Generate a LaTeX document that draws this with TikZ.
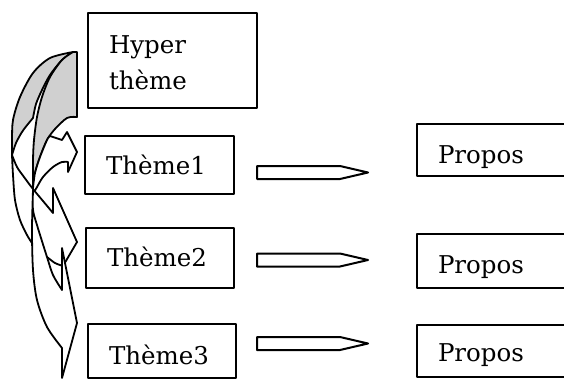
\documentclass[tikz,border=0pt]{standalone}
\usepackage{fontspec}
\setmainfont{DejaVu Serif}
\usetikzlibrary{calc}
\definecolor{backgray}{RGB}{208,208,208}
\begin{document}
\begin{tikzpicture}[x=1pt,y=-1pt,line join=round,
  box/.style={draw,line width=2pt,rectangle,anchor=north west,inner xsep=21pt,inner ysep=0pt,
    align=left,font=\fontsize{24.5}{36}\selectfont},
  blk/.style={draw,line width=2pt,fill=white},
  face/.style={draw,line width=1.8pt,fill=white},
  backface/.style={draw,line width=1.8pt,fill=backgray}]
\useasboundingbox (0,0) rectangle (564,380);
\clip (0,0) rectangle (564,380);

% boxes
\node[box,minimum width=169pt,minimum height=95pt,text width=127pt,text height=2pt,text depth=17pt] (h) at (87,12) {Hyper\\thème};
\node[box,minimum width=149pt,minimum height=58pt,text width=107pt,text height=20pt,text depth=2pt] (t1) at (84,135) {Thème1};
\node[box,minimum width=148pt,minimum height=60pt,text width=106pt,text height=18pt,text depth=2pt] (t2) at (85,227) {Thème2};
\node[box,minimum width=148pt,minimum height=54pt,text width=106pt,text height=28pt,text depth=2pt] (t3) at (87,323) {Thème3};
\node[box,minimum width=180pt,minimum height=52pt,text width=138pt,text height=28pt,text depth=2pt] (p1) at (416,123) {Propos};
\node[box,minimum width=180pt,minimum height=54pt,text width=138pt,text height=26pt,text depth=2pt] (p2) at (416,233) {Propos};
\node[box,minimum width=180pt,minimum height=52pt,text width=138pt,text height=22pt,text depth=2pt] (p3) at (416,324) {Propos};

% block arrows
\newcommand\pencilarrow[1]{\draw[blk] #1 ++(0,-6.5) -- ++(83,0) -- ++(28,6.5) -- ++(-28,6.5) -- ++(-83,0) -- cycle;}
\pencilarrow{([xshift=22pt,yshift=-7.5pt]t1.east)}
\pencilarrow{([xshift=22pt,yshift=-2pt]t2.east)}
\pencilarrow{([xshift=20pt,yshift=7.5pt]t3.east)}

% curved arrows: back faces (grey)
\path[backface] plot[smooth] coordinates {(73,52) (50,58) (33,73) (20,97) (13,120) (12,140) (12,155)}
  -- plot[smooth] coordinates {(12,155) (16,143) (22,132) (28,124) (33,118)}
  -- plot[smooth] coordinates {(33,118) (36,104) (42,90) (50,75) (62,60) (73,52)} -- cycle;
\path[backface] (73,52) -- (77,52) -- (77,117)
  -- plot[smooth] coordinates {(77,117) (67,118) (55,129) (47,140) (40,157) (35,173) (33,188)}
  -- plot[smooth] coordinates {(33,188) (33,160) (34,140) (37,117) (42,97) (50,77) (62,60) (73,52)} -- cycle;

% front face A (to Theme1)
\path[face] plot[smooth] coordinates {(33,188) (35,173) (40,157) (47,140) (50,136)}
  -- plot[smooth] coordinates {(50,136) (56,138) (62,140)}
  -- (67,132) -- (77,152) -- (68,172) -- (68,162)
  -- plot[smooth] coordinates {(68,162) (62,162) (53,167) (43,177) (37,187) (33,194)} -- cycle;

% front face B (to Theme2)
\path[face] plot[smooth] coordinates {(12,155) (17,167) (24,177) (33,189) (43,201) (53,213)}
  -- (53,188) -- (77,242) -- (63,266)
  -- plot[smooth] coordinates {(63,266) (55,263) (47,257) (38,250) (32,243)}
  -- plot[smooth] coordinates {(32,243) (27,235) (20,220) (15,200) (13,175) (12,155)} -- cycle;

% front face C (to Theme3)
\path[face] plot[smooth] coordinates {(33,190) (33,210) (37,225) (41,238) (47,257) (53,275) (62,290)}
  -- (62,248) -- (77,323) -- (62,378) -- (62,348)
  -- plot[smooth] coordinates {(62,348) (47,327) (37,300) (33,270) (32,230) (33,190)} -- cycle;
\end{tikzpicture}
\end{document}
